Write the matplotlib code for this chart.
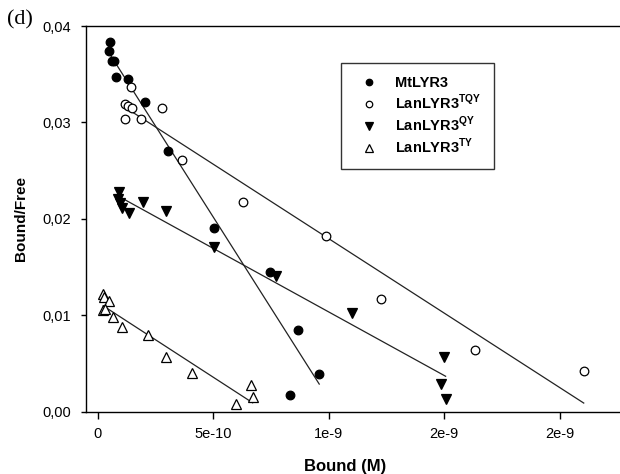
import numpy as np
import matplotlib
matplotlib.use("Agg")
import matplotlib.pyplot as plt

plt.rcParams['font.family'] = ['Liberation Sans', 'DejaVu Sans']
plt.rcParams['mathtext.fontset'] = 'custom'
plt.rcParams['mathtext.rm'] = 'Liberation Sans'
plt.rcParams['mathtext.bf'] = 'Liberation Sans:bold'

# ========== DATA (Bound in units of 1e-10 M) ==========
mt_x = [0.53, 0.49, 0.62, 0.71, 0.79, 1.32, 2.05, 3.03, 5.03, 7.44, 8.68, 9.59, 8.32]
mt_y = [0.0383, 0.0374, 0.0364, 0.0364, 0.0347, 0.0345, 0.0321, 0.0270, 0.0190,
        0.01444, 0.0085, 0.00387, 0.00173]

tqy_x = [1.45, 1.19, 1.32, 1.50, 1.19, 1.87, 2.80, 3.64, 6.28, 9.87, 12.25, 16.35, 21.04]
tqy_y = [0.0337, 0.0319, 0.0317, 0.0315, 0.0304, 0.0303, 0.0315, 0.0261, 0.0217,
         0.0182, 0.01171, 0.0064, 0.00418]

qy_x = [0.93, 0.89, 0.97, 1.06, 1.35, 1.97, 2.96, 5.03, 7.72, 11.0, 14.98, 14.86, 15.06]
qy_y = [0.0228, 0.0220, 0.0216, 0.0211, 0.0206, 0.0217, 0.0208, 0.0171, 0.0141,
        0.01023, 0.00567, 0.00287, 0.00132]

ty_x = [0.24, 0.27, 0.50, 0.24, 0.32, 0.68, 1.06, 2.16, 2.94, 4.08, 5.99, 6.64, 6.71]
ty_y = [0.01223, 0.01189, 0.01143, 0.01057, 0.01064, 0.00977, 0.00874, 0.00798,
        0.00563, 0.00401, 0.00073, 0.00273, 0.00152]

xticks = [0, 5, 10, 15, 20]
xtick_labels = ['0', '5e-10', '1e-9', '2e-9', '2e-9']
yticks = [0.0, 0.01, 0.02, 0.03, 0.04]
ytick_labels = ['0,00', '0,01', '0,02', '0,03', '0,04']

series = [
    ('MtLYR3', mt_x, mt_y, dict(marker='o', mfc='black', mec='black', ms=6.2)),
    (r'LanLYR3$^{\mathbf{TQY}}$', tqy_x, tqy_y, dict(marker='o', mfc='white', mec='black', ms=6.2)),
    (r'LanLYR3$^{\mathbf{QY}}$', qy_x, qy_y, dict(marker='v', mfc='black', mec='black', ms=7)),
    (r'LanLYR3$^{\mathbf{TY}}$', ty_x, ty_y, dict(marker='^', mfc='white', mec='black', ms=7)),
]

fig = plt.figure(figsize=(6.2, 4.74), dpi=100)
ax = fig.add_axes([86 / 620, 1 - 411.5 / 474, 1 - 86 / 620, (411.5 - 26) / 474])

for label, xs, ys, style in series:
    xs = np.array(xs)
    ys = np.array(ys)
    # regression line over the data range
    k, b = np.polyfit(xs, ys, 1)
    xl = np.array([xs.min(), xs.max()])
    ax.plot(xl, k * xl + b, color='#222222', lw=0.9, zorder=2)
    ax.plot(xs, ys, linestyle='none', mew=0.9, label=label, zorder=3, **style)

ax.set_xlim(-0.506, 22.61)
ax.set_ylim(0, 0.04)
ax.set_xticks(xticks)
ax.set_xticklabels(xtick_labels)
ax.set_yticks(yticks)
ax.set_yticklabels(ytick_labels)
ax.tick_params(axis='x', direction='out', length=5, width=1, pad=6, labelsize=10.5)
ax.tick_params(axis='y', direction='out', length=3.5, width=1, pad=7, labelsize=10.5)
ax.spines['right'].set_visible(False)
for s in ['left', 'top', 'bottom']:
    ax.spines[s].set_linewidth(1)

ax.set_xlabel('Bound (M)', fontsize=12, fontweight='bold')
ax.xaxis.set_label_coords(0.485, -0.122)
ax.set_ylabel('Bound/Free', fontsize=11, fontweight='bold')
ax.yaxis.set_label_coords(-0.108, 0.5)

leg = ax.legend(loc='upper left', bbox_to_anchor=(341 / 620, 1 - 63 / 474),
                bbox_transform=fig.transFigure, frameon=True, fancybox=False,
                edgecolor='black', borderpad=0.9, borderaxespad=0, labelspacing=0.18,
                handlelength=2.0, handletextpad=0.8, markerscale=0.75,
                prop={'weight': 'bold', 'size': 10.5})
leg.get_frame().set_linewidth(1)

fig.text(7 / 620, 1 - 20 / 474, '(d)', family=['Liberation Serif', 'DejaVu Serif'],
         fontsize=16, va='center', ha='left')

fig.savefig('out.png', dpi=100)
